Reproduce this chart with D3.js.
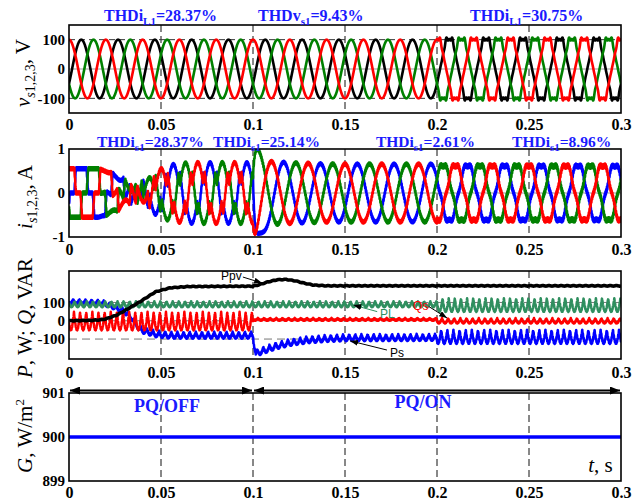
<!DOCTYPE html>
<html>
<head>
<meta charset="utf-8">
<script src="https://cdn.jsdelivr.net/npm/d3@7"></script>
<style>
  body { margin: 0; background: #fff; }
  svg { display: block; }
</style>
</head>
<body>
<svg id="chart" width="643" height="502"></svg>
<script>
// ---- values ----
const timeTicks = [0, 0.05, 0.1, 0.15, 0.2, 0.25, 0.3];
const timeLabels = ["0", "0.05", "0.1", "0.15", "0.2", "0.25", "0.3"];
const vTicks = [-100, 0, 100];
const iTicks = [-1, 0, 1];
const pTicks = [-100, 0, 100];
const gTicks = [899, 900, 901];

const gridFreq = 50;                 // Hz
const phaseShift = [0, -120, -240];  // deg, phases 1,2,3
const vPeak = 100;
// supply voltage after t = 0.2 s: fundamental gain and harmonics [order, relative amplitude]
const vFundAfter = 1.07;
const vHarm = [[5, -0.06], [7, -0.04], [11, 0.03], [13, 0.025]];

// source currents
const iLoadPeak = 0.55;
const iPvPeak = 1.24;
const pvShare = [[0, 0], [0.016, 0], [0.02, 0.05], [0.026, 0.17], [0.032, 0.36], [0.0386, 0.55], [0.047, 0.84], [0.055, 0.96], [0.065, 1], [0.1, 1]];
const iAfter = [[0.1, 0.72], [0.11, 0.72], [0.12, 0.69], [0.14, 0.66], [0.3, 0.65]];
const iSpike = [-0.25, -0.85, 0.35];
const iHarm5 = [[0, 0], [0.2, 0], [0.2, 0.05], [0.3, 0.05]];
const iRipple = [[0, 0.035], [0.2, 0.035], [0.2, 0.05], [0.3, 0.05]];

// powers (W / VAR): slow level and ripple half-height
const ppvKeys = [[0, 0], [0.012, 2], [0.017, 5], [0.02, 10], [0.026, 31], [0.032, 65], [0.0386, 104], [0.047, 158], [0.055, 180], [0.065, 187], [0.1, 189], [0.103, 196], [0.108, 212], [0.113, 224], [0.118, 226], [0.123, 218], [0.128, 205], [0.133, 195], [0.14, 191], [0.3, 191]];
const plKeys = [[0, 91], [0.2, 91], [0.2, 86], [0.3, 86]];
const plRip = [[0, 14], [0.2, 14], [0.2, 35], [0.3, 35]];
const qsKeys = [[0, -2], [0.1, -2], [0.1, 8], [0.2, 8], [0.2, 0], [0.3, 0]];
const qsRip = [[0, 48], [0.1, 48], [0.1, 5], [0.2, 5], [0.2, 12], [0.3, 12]];
const psKeys = [[0, 105], [0.018, 100], [0.024, 80], [0.03, 55], [0.034, 20], [0.0386, -45], [0.047, -70], [0.055, -78], [0.1, -78], [0.1005, -120], [0.1015, -175], [0.106, -160], [0.112, -138], [0.12, -118], [0.13, -103], [0.14, -96], [0.15, -92], [0.2, -90], [0.2, -87], [0.3, -87]];
const psRip = [[0, 10], [0.018, 10], [0.04, 15], [0.2, 15], [0.2, 35], [0.3, 35]];

const gValue = 900;

const thdTop = [["THDi", "L1", "=28.37%"], ["THDv", "s1", "=9.43%"], ["THDi", "L1", "=30.75%"]];
const thdMid = [["THDi", "s1", "=28.37%"], ["THDi", "s1", "=25.14%"], ["THDi", "s1", "=2.61%"], ["THDi", "s1", "=8.96%"]];

// ---- styles / layout ----
const vColors = ["#ff0000", "#000000", "#008000"];
const iColors = ["#ff0000", "#0000ff", "#008000"];
const serif = "'Liberation Serif', 'Times New Roman', serif";
const blueText = "#1a1aff";

const svg = d3.select("#chart");
const x = d3.scaleLinear().domain([0, 0.3]).range([69, 621]);
const yV = d3.scaleLinear().domain([-150, 150]).range([113, 25]);
const yI = d3.scaleLinear().domain([-1, 1]).range([237, 149]);
const yP = d3.scaleLinear().domain([-209, 272]).range([359, 271]);
const yG = d3.scaleLinear().domain([899, 901]).range([481, 393]);

function interp(keys, t) {
  if (t <= keys[0][0]) return keys[0][1];
  for (let i = 1; i < keys.length; i++) {
    if (t < keys[i][0]) {
      const [t0, v0] = keys[i - 1], [t1, v1] = keys[i];
      return v0 + (v1 - v0) * (t - t0) / (t1 - t0);
    }
  }
  return keys[keys.length - 1][1];
}

// six-step load current shape, soft edges
function sixStep(deg) {
  let a = ((deg % 360) + 360) % 360;
  if (a > 180) a = 360 - a;
  const e = 8;
  if (a < 60 - e) return 1;
  if (a < 60 + e) return (60 + e - a) / (2 * e);
  if (a < 120 - e) return 0;
  if (a < 120 + e) return -(a - (120 - e)) / (2 * e);
  return -1;
}

const dt = 0.00005;
const ts = d3.range(0, 0.3 + dt / 2, dt);
const w = 2 * Math.PI * gridFreq;
const rad = Math.PI / 180;
const hf = t => Math.sin(2 * Math.PI * 2500 * t);

function voltage(k, t) {
  const th = w * t + phaseShift[k] * rad;
  let v = Math.cos(th);
  if (t >= 0.2) {
    v *= vFundAfter;
    vHarm.forEach(([h, a]) => { v += a * Math.cos(h * th); });
  }
  return vPeak * v;
}

function current(k, t) {
  const th = w * t + phaseShift[k] * rad;
  const rip = interp(iRipple, t) * Math.sin(2 * Math.PI * 2500 * t + k * 2);
  if (t < 0.1) {
    return iLoadPeak * sixStep(th / rad) - iPvPeak * interp(pvShare, t) * Math.cos(th) + rip;
  }
  const s = (t - 0.1) / 0.0015;
  return -interp(iAfter, t) * Math.cos(th) + iSpike[k] * s * Math.exp(1 - s)
    + interp(iHarm5, t) * Math.cos(5 * th) + rip;
}

const cusp = (t, ph) => 1 - 2 * Math.abs(Math.sin(3 * w * t + ph));

const powerSeries = [
  { name: "Ps", color: "#0000ff", width: 2.5, f: t => interp(psKeys, t) + interp(psRip, t) * cusp(t, 1.0) + 5 * hf(t) },
  { name: "PL", color: "#2f8f5f", width: 2.5, f: t => interp(plKeys, t) + interp(plRip, t) * cusp(t, 0.3) + 3 * hf(t + 0.0001) },
  { name: "Qs", color: "#ff0000", width: 2.5, f: t => interp(qsKeys, t) + interp(qsRip, t) * cusp(t, 0.6) + 3 * hf(t + 0.0002) },
  { name: "Ppv", color: "#000000", width: 3.6, f: t => interp(ppvKeys, t) + 1.5 * Math.sin(6 * w * t) }
];

// ---- panels ----
const panels = [
  { y: yV, ticks: vTicks, pad: 6, hgrid: [[-100, "6,4", "#333"], [0, null, "#999"], [100, "6,4", "#333"]] },
  { y: yI, ticks: iTicks, pad: 7, hgrid: [[0, null, "#999"]] },
  { y: yP, ticks: pTicks, pad: 8, hgrid: [[-100, "8,5", "#777"], [0, "8,5", "#777"], [100, "8,5", "#777"]] },
  { y: yG, ticks: gTicks, pad: 6, hgrid: [] }
];

const defs = svg.append("defs");
panels.forEach((p, i) => {
  const [b, t] = p.y.range();
  defs.append("clipPath").attr("id", "clip" + i)
    .append("rect").attr("x", x(0)).attr("y", t).attr("width", x(0.3) - x(0)).attr("height", b - t);
});
defs.append("marker").attr("id", "ah").attr("viewBox", "0 0 10 8")
  .attr("refX", 10).attr("refY", 4).attr("markerWidth", 10).attr("markerHeight", 8)
  .attr("markerUnits", "userSpaceOnUse").attr("orient", "auto-start-reverse")
  .append("path").attr("d", "M0,0L10,4L0,8z").attr("fill", "#000");
defs.append("marker").attr("id", "sa").attr("viewBox", "0 0 8 6")
  .attr("refX", 8).attr("refY", 3).attr("markerWidth", 8).attr("markerHeight", 6)
  .attr("markerUnits", "userSpaceOnUse").attr("orient", "auto")
  .append("path").attr("d", "M0,0L8,3L0,6z").attr("fill", "#000");

panels.forEach((p, i) => {
  const [b, t] = p.y.range();
  const g = svg.append("g");
  // grid
  g.selectAll(".vg").data(timeTicks.slice(1, -1)).enter().append("line")
    .attr("x1", d => x(d)).attr("x2", d => x(d)).attr("y1", t).attr("y2", b)
    .attr("stroke", "#111").attr("stroke-width", 1).attr("stroke-dasharray", "7,4");
  g.selectAll(".hg").data(p.hgrid).enter().append("line")
    .attr("x1", x(0)).attr("x2", x(0.3)).attr("y1", d => p.y(d[0])).attr("y2", d => p.y(d[0]))
    .attr("stroke", d => d[2]).attr("stroke-width", 1)
    .attr("stroke-dasharray", d => d[1]);
  p.g = g.append("g").attr("clip-path", `url(#clip${i})`);
  // axes
  svg.append("g").attr("transform", `translate(0,${b})`)
    .call(d3.axisBottom(x).tickValues(timeTicks).tickFormat((d, j) => timeLabels[j]).tickSize(0).tickPadding(p.pad))
    .call(a => a.select(".domain").remove())
    .selectAll("text").attr("font-family", serif).attr("font-weight", "bold").attr("font-size", 16).attr("fill", "#000");
  svg.append("g").attr("transform", `translate(${x(0)},0)`)
    .call(d3.axisLeft(p.y).tickValues(p.ticks).tickFormat(d => String(d)).tickSize(0).tickPadding(4))
    .call(a => a.select(".domain").remove())
    .selectAll("text").attr("font-family", serif).attr("font-weight", "bold").attr("font-size", 15).attr("fill", "#000");
});

const line = (yScale, f) => d3.line().x(d => x(d)).y(d => yScale(f(d)));

// panel 1: voltages (black, green, red on top)
[1, 2, 0].forEach(k => {
  panels[0].g.append("path").datum(ts).attr("d", line(yV, t => voltage(k, t)))
    .attr("fill", "none").attr("stroke", vColors[k]).attr("stroke-width", 2.6).attr("stroke-linejoin", "round");
});
// panel 2: currents (blue, green, red)
[1, 2, 0].forEach(k => {
  panels[1].g.append("path").datum(ts).attr("d", line(yI, t => current(k, t)))
    .attr("fill", "none").attr("stroke", iColors[k]).attr("stroke-width", 2.5).attr("stroke-linejoin", "round");
});
// panel 3: powers
powerSeries.forEach(s => {
  panels[2].g.append("path").datum(ts).attr("d", line(yP, s.f))
    .attr("fill", "none").attr("stroke", s.color).attr("stroke-width", s.width).attr("stroke-linejoin", "round");
});
// panel 4: irradiance
panels[3].g.append("path").datum(timeTicks).attr("d", line(yG, () => gValue))
  .attr("fill", "none").attr("stroke", "#0000ff").attr("stroke-width", 3.5);

// frames
panels.forEach(p => {
  const [b, t] = p.y.range();
  svg.append("rect").attr("x", x(0)).attr("y", t).attr("width", x(0.3) - x(0)).attr("height", b - t)
    .attr("fill", "none").attr("stroke", "#000").attr("stroke-width", 1.6);
});

// THD labels
function thd(parts, t0, yBase, size) {
  const tx = svg.append("text").attr("x", x(t0)).attr("y", yBase)
    .attr("font-family", serif).attr("font-weight", "bold").attr("font-size", size).attr("fill", blueText);
  tx.append("tspan").text(parts[0]);
  tx.append("tspan").attr("font-size", 11).attr("dy", 4).text(parts[1]);
  tx.append("tspan").attr("dy", -4).text(parts[2]);
}
[0.019, 0.1027, 0.218].forEach((t0, j) => thd(thdTop[j], t0, 21, 16));
[0.0152, 0.0783, 0.1668, 0.2408].forEach((t0, j) => thd(thdMid[j], t0, 147, 15.5));

// y axis titles
function ytitle(cx, cy, build) {
  const tx = svg.append("text").attr("transform", `translate(${cx},${cy}) rotate(-90)`)
    .attr("text-anchor", "middle").attr("font-family", serif).attr("font-size", 21).attr("fill", "#000");
  build(tx);
}
ytitle(30, 73, tx => {
  tx.append("tspan").attr("font-style", "italic").text("v");
  tx.append("tspan").attr("font-size", 14).attr("dy", 5).attr("font-style", "italic").text("s");
  tx.append("tspan").attr("font-size", 14).text("1,2,3");
  tx.append("tspan").attr("dy", -5).text(", V");
});
ytitle(32, 197, tx => {
  tx.append("tspan").attr("font-style", "italic").text("i");
  tx.append("tspan").attr("font-size", 14).attr("dy", 5).attr("font-style", "italic").text("s");
  tx.append("tspan").attr("font-size", 14).text("1,2,3");
  tx.append("tspan").attr("dy", -5).text(", A");
});
ytitle(32, 318, tx => {
  tx.append("tspan").attr("font-style", "italic").text("P");
  tx.append("tspan").text(", W; ");
  tx.append("tspan").attr("font-style", "italic").text("Q");
  tx.append("tspan").text(", VAR");
});
ytitle(32, 436, tx => {
  tx.append("tspan").attr("font-style", "italic").text("G");
  tx.append("tspan").text(", W/m");
  tx.append("tspan").attr("font-size", 13).attr("dy", -8).text("2");
});

// power annotations
const notes = [
  { text: "Ppv", color: "#000", line: "#000", at: [0.0826, 222], from: [0.0945, 239], to: [0.105, 206] },
  { text: "PL", color: "#2f8f5f", line: "#2f8f5f", at: [0.1690, 15], from: [0.1675, 50], to: [0.1545, 86] },
  { text: "Qs", color: "#ff0000", line: "#000", at: [0.1870, 59], from: [0.1955, 78], to: [0.2055, 15] },
  { text: "Ps", color: "#000", line: "#000", at: [0.1745, -200], from: [0.1728, -160], to: [0.1528, -110] }
];
notes.forEach(n => {
  svg.append("line").attr("x1", x(n.from[0])).attr("y1", yP(n.from[1]))
    .attr("x2", x(n.to[0])).attr("y2", yP(n.to[1]))
    .attr("stroke", n.line).attr("stroke-width", 1)
    .attr("marker-end", "url(#sa)");
  svg.append("text").attr("x", x(n.at[0])).attr("y", yP(n.at[1]))
    .attr("font-family", "'Liberation Sans', Arial, sans-serif").attr("font-size", 12)
    .attr("fill", n.color).text(n.text);
});

// PQ OFF / ON arrows
const ay = yG(901) - 2.5;
[[0, 0.1], [0.1, 0.3]].forEach(([a, b]) => {
  svg.append("line").attr("x1", x(a) + 1).attr("x2", x(b) - 1).attr("y1", ay).attr("y2", ay)
    .attr("stroke", "#000").attr("stroke-width", 2)
    .attr("marker-start", "url(#ah)").attr("marker-end", "url(#ah)");
});
svg.append("text").attr("x", x(0.0533)).attr("y", 412).attr("text-anchor", "middle")
  .attr("font-family", serif).attr("font-weight", "bold").attr("font-size", 18).attr("fill", blueText).text("PQ/OFF");
svg.append("text").attr("x", x(0.1924)).attr("y", 408).attr("text-anchor", "middle")
  .attr("font-family", serif).attr("font-weight", "bold").attr("font-size", 18).attr("fill", blueText).text("PQ/ON");

const ts2 = svg.append("text").attr("x", x(0.2955)).attr("y", 472).attr("text-anchor", "end")
  .attr("font-family", serif).attr("font-size", 21).attr("fill", "#000");
ts2.append("tspan").attr("font-style", "italic").text("t");
ts2.append("tspan").text(", s");
</script>
</body>
</html>
